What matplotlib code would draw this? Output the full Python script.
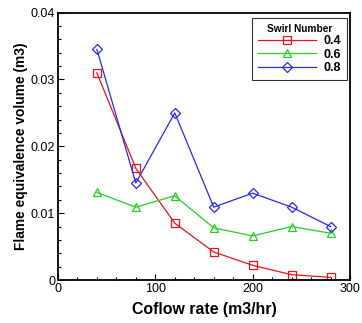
import matplotlib
matplotlib.use("Agg")
import matplotlib.pyplot as plt
from matplotlib.ticker import MultipleLocator, FuncFormatter

coflow = [40, 80, 120, 160, 200, 240, 280]
swirl_labels = ["0.4", "0.6", "0.8"]
vol_04 = [0.0310, 0.0167, 0.0085, 0.0042, 0.0022, 0.0008, 0.0004]
vol_06 = [0.0131, 0.0109, 0.0126, 0.0078, 0.0066, 0.0080, 0.0070]
vol_08 = [0.0345, 0.0145, 0.0250, 0.0109, 0.0130, 0.0109, 0.0080]

plt.rcParams['font.family'] = ['Liberation Sans', 'DejaVu Sans']

fig = plt.figure(figsize=(3.62, 3.23), dpi=100)
ax = fig.add_axes([0.160, 0.133, 0.807, 0.828])

styles = [("#e8141a", "s", 5.3), ("#1ed21e", "^", 6.0), ("#2828f0", "D", 4.7)]
for vals, lab, (c, m, ms) in zip([vol_04, vol_06, vol_08], swirl_labels, styles):
    ax.plot(coflow, vals, color=c, marker=m, markersize=ms, markerfacecolor='none',
            markeredgecolor=c, markeredgewidth=0.9, linewidth=0.9, label=lab)

ax.set_xlim(0, 300)
ax.set_ylim(0, 0.04)
ax.xaxis.set_major_locator(MultipleLocator(100))
ax.xaxis.set_minor_locator(MultipleLocator(20))
ax.yaxis.set_major_locator(MultipleLocator(0.01))
ax.yaxis.set_minor_locator(MultipleLocator(0.002))
ax.xaxis.set_major_formatter(FuncFormatter(lambda v, p: f"{v:g}"))
ax.yaxis.set_major_formatter(FuncFormatter(lambda v, p: f"{v:g}"))
ax.tick_params(which='both', direction='in', top=False, right=False, labelsize=9, width=0.8, pad=2)
ax.tick_params(which='major', length=4)
ax.tick_params(which='minor', length=2.5)
for s in ax.spines.values():
    s.set_linewidth(1.3)

ax.set_xlabel("Coflow rate (m3/hr)", fontsize=11.4, fontweight='bold', labelpad=5)
ax.set_ylabel("Flame equivalence volume (m3)", fontsize=9.9, fontweight='bold', labelpad=2)

leg = ax.legend(title="Swirl Number", loc='upper right', bbox_to_anchor=(0.990, 0.980),
                prop={'weight': 'bold', 'size': 9}, title_fontproperties={'weight': 'bold', 'size': 7.3},
                handlelength=4.6, handletextpad=0.6, borderpad=0.5, labelspacing=0.1,
                borderaxespad=0, fancybox=False, frameon=True, edgecolor='black',
                markerfirst=True, alignment='center')
leg.get_frame().set_linewidth(0.8)

fig.savefig("out.png", dpi=100)
